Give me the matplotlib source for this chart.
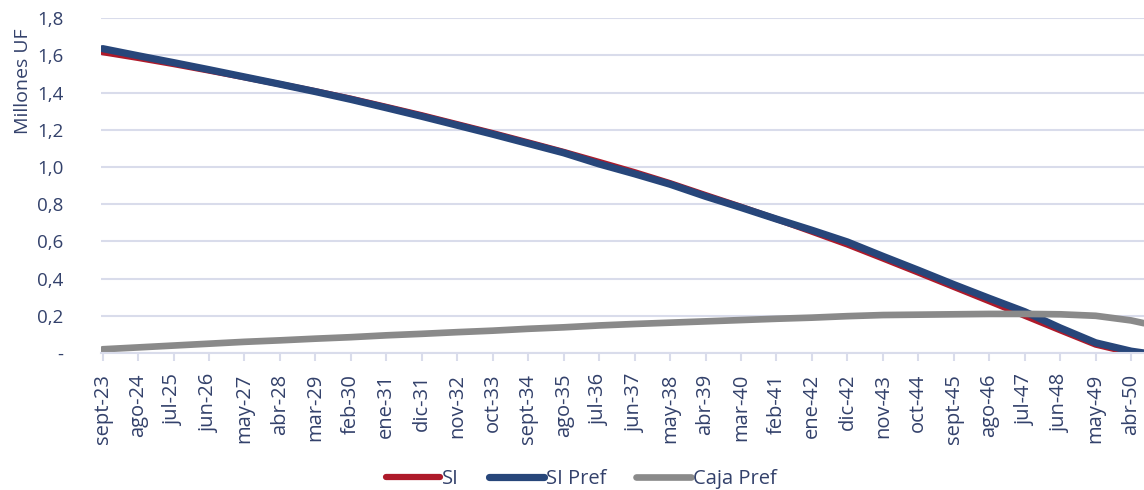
import numpy as np
import matplotlib
matplotlib.use("Agg")
import matplotlib.pyplot as plt

plt.rcParams['font.family'] = ['Open Sans', 'DejaVu Sans']

# etiquetas del eje x (una cada 11 meses, sept-23 .. abr-50)
tick_labels = ["sept-23", "ago-24", "jul-25", "jun-26", "may-27", "abr-28",
               "mar-29", "feb-30", "ene-31", "dic-31", "nov-32", "oct-33",
               "sept-34", "ago-35", "jul-36", "jun-37", "may-38", "abr-39",
               "mar-40", "feb-41", "ene-42", "dic-42", "nov-43", "oct-44",
               "sept-45", "ago-46", "jul-47", "jun-48", "may-49", "abr-50"]

# mes (índice desde sept-23) de cada lectura
months = [0, 11, 22, 33, 44, 55, 66, 77, 88, 99, 110, 121, 132, 143, 154,
          165, 176, 187, 198, 209, 220, 231, 242, 253, 264, 275, 286, 297,
          308, 319, 323]

# Millones UF
si = [1.617, 1.586, 1.553, 1.518, 1.482, 1.445, 1.407, 1.367, 1.323, 1.278,
      1.230, 1.182, 1.132, 1.081, 1.027, 0.972, 0.913, 0.849, 0.786, 0.720,
      0.652, 0.583, 0.508, 0.432, 0.355, 0.278, 0.200, 0.122, 0.045, 0.000,
      0.000]
si_pref = [1.636, 1.598, 1.561, 1.523, 1.484, 1.445, 1.405, 1.363, 1.318,
           1.272, 1.224, 1.176, 1.126, 1.076, 1.016, 0.963, 0.907, 0.842,
           0.782, 0.720, 0.660, 0.597, 0.520, 0.445, 0.368, 0.294, 0.222,
           0.135, 0.055, 0.010, 0.000]
caja_pref = [0.020, 0.030, 0.040, 0.050, 0.060, 0.068, 0.077, 0.085, 0.095,
             0.103, 0.112, 0.120, 0.130, 0.138, 0.148, 0.156, 0.163, 0.170,
             0.177, 0.184, 0.190, 0.198, 0.204, 0.206, 0.208, 0.210, 0.210,
             0.208, 0.200, 0.175, 0.160]

text_col = '#33416B'
grid_col = '#D9DCEB'

fig = plt.figure(figsize=(11.44, 4.9), dpi=100)
ax = fig.add_axes([0.0883, 0.2796, 0.9117, 0.6834])

ax.plot(months, si, color='#AE1A2A', lw=4.5, label='SI', solid_capstyle='round')
ax.plot(months, si_pref, color='#27467A', lw=5.2, label='SI Pref', solid_capstyle='round')
ax.plot(months, caja_pref, color='#8A8A8A', lw=4.8, label='Caja Pref', solid_capstyle='round')

ax.set_xlim(-0.5, 323)
ax.set_ylim(0, 1.8)
yt = np.arange(0, 1.81, 0.2)
ax.set_yticks(yt)
ax.set_yticklabels(['-'] + [f"{v:.1f}".replace('.', ',') for v in yt[1:]])
ax.set_xticks(months[:-1])
ax.set_xticklabels(tick_labels, rotation=90)

ax.grid(axis='y', color=grid_col, lw=1.5)
ax.set_axisbelow(True)
for s in ['top', 'right', 'left']:
    ax.spines[s].set_visible(False)
ax.spines['bottom'].set_color(grid_col)
ax.spines['bottom'].set_linewidth(1.5)
ax.tick_params(axis='y', length=0, pad=27, labelsize=13.5, labelcolor=text_col)
ax.tick_params(axis='x', length=6, width=1.5, color=grid_col, pad=9,
               labelsize=14.5, labelcolor=text_col)

ax.set_ylabel('Millones UF', fontsize=14, color=text_col, loc='top')
ax.yaxis.set_label_coords(-0.066, 0.97)

fig.legend(loc='lower center', ncol=3, frameon=False, fontsize=14.5,
           bbox_to_anchor=(0.508, -0.035), handlelength=2.7, handletextpad=0.1,
           columnspacing=1.5, labelcolor=text_col)

fig.savefig('out.png', dpi=100)
